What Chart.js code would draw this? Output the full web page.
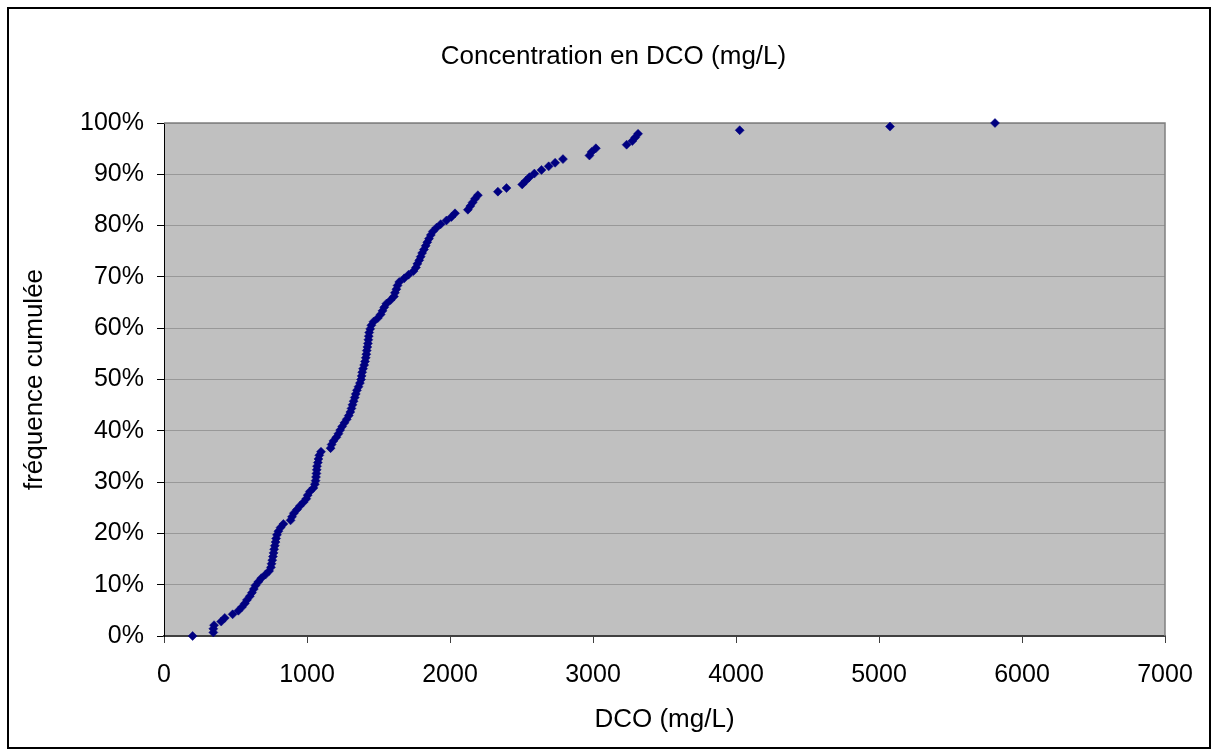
<!DOCTYPE html>
<html>
<head>
<meta charset="utf-8">
<script src="https://cdn.jsdelivr.net/npm/chart.js@4"></script>
<style>
  html, body { margin: 0; background: #fff; }
  #wrap { width: 1217px; height: 756px; }
</style>
</head>
<body>
<div id="wrap"><canvas id="chart" width="1217" height="756"></canvas></div>
<script>
// ========= données =========
// DCO (mg/L), triées
const dco = [
  200, 345, 345, 350, 400, 425, 480, 520, 545, 565,
  580, 600, 615, 628, 640, 660, 680, 710, 735, 748,
  752, 757, 762, 766, 770, 775, 780, 784, 790, 800,
  815, 835, 885, 895, 908, 930, 950, 975, 995, 1005,
  1020, 1045, 1055, 1060, 1063, 1066, 1068, 1070, 1076, 1080,
  1086, 1098, 1165, 1172, 1185, 1205, 1220, 1232, 1246, 1262,
  1278, 1292, 1303, 1311, 1318, 1326, 1334, 1341, 1349, 1360,
  1370, 1378, 1382, 1386, 1392, 1400, 1406, 1411, 1415, 1418,
  1422, 1426, 1429, 1432, 1435, 1442, 1450, 1465, 1495, 1515,
  1528, 1540, 1555, 1585, 1608, 1615, 1625, 1633, 1645, 1680,
  1710, 1745, 1762, 1772, 1785, 1795, 1805, 1818, 1830, 1841,
  1853, 1866, 1880, 1905, 1935, 1975, 2010, 2035, 2125, 2142,
  2158, 2175, 2195, 2335, 2395, 2505, 2530, 2555, 2590, 2640,
  2690, 2735, 2790, 2975, 2990, 3020, 3235, 3275, 3295, 3315,
  4026, 5077, 5811
];
// fréquence cumulée (%)
const freq = [
  0, 0.70, 1.41, 2.11, 2.82, 3.52, 4.23, 4.93, 5.63, 6.34,
  7.04, 7.75, 8.45, 9.15, 9.86, 10.56, 11.27, 11.97, 12.68, 13.38,
  14.08, 14.79, 15.49, 16.20, 16.90, 17.61, 18.31, 19.01, 19.72, 20.42,
  21.13, 21.83, 22.54, 23.24, 23.94, 24.65, 25.35, 26.06, 26.76, 27.46,
  28.17, 28.87, 29.58, 30.28, 30.99, 31.69, 32.39, 33.10, 33.80, 34.51,
  35.21, 35.92, 36.62, 37.32, 38.03, 38.73, 39.44, 40.14, 40.85, 41.55,
  42.25, 42.96, 43.66, 44.37, 45.07, 45.77, 46.48, 47.18, 47.89, 48.59,
  49.30, 50.00, 50.70, 51.41, 52.11, 52.82, 53.52, 54.23, 54.93, 55.63,
  56.34, 57.04, 57.75, 58.45, 59.15, 59.86, 60.56, 61.27, 61.97, 62.68,
  63.38, 64.08, 64.79, 65.49, 66.20, 66.90, 67.61, 68.31, 69.01, 69.72,
  70.42, 71.13, 71.83, 72.54, 73.24, 73.94, 74.65, 75.35, 76.06, 76.76,
  77.46, 78.17, 78.87, 79.58, 80.28, 80.99, 81.69, 82.39, 83.10, 83.80,
  84.51, 85.21, 85.92, 86.62, 87.32, 88.03, 88.73, 89.44, 90.14, 90.85,
  91.55, 92.25, 92.96, 93.66, 94.37, 95.07, 95.77, 96.48, 97.18, 97.89,
  98.59, 99.30, 100
];
const xTicks = [0, 1000, 2000, 3000, 4000, 5000, 6000, 7000];
const yTicks = [0, 10, 20, 30, 40, 50, 60, 70, 80, 90, 100];

const FONT = 'Liberation Sans, Arial, sans-serif';

// fond gris de la zone de tracé + cadres
const frame = {
  id: 'frame',
  beforeDraw(chart) {
    const { ctx, chartArea: a } = chart;
    ctx.save();
    ctx.fillStyle = '#fff';
    ctx.fillRect(0, 0, chart.width, chart.height);
    ctx.fillStyle = '#c0c0c0';
    ctx.fillRect(a.left, a.top, a.right - a.left, a.bottom - a.top);
    ctx.restore();
  },
  beforeDatasetsDraw(chart) {
    const { ctx, chartArea: a } = chart;
    ctx.save();
    ctx.strokeStyle = '#808080';
    ctx.lineWidth = 1.5;
    ctx.beginPath();
    ctx.moveTo(a.left, a.top);
    ctx.lineTo(a.right, a.top);
    ctx.lineTo(a.right, a.bottom);
    ctx.stroke();
    ctx.restore();
  },
  afterDraw(chart) {
    const { ctx } = chart;
    ctx.save();
    ctx.strokeStyle = '#000';
    ctx.lineWidth = 2;
    ctx.strokeRect(8, 8, 1202, 740);
    ctx.restore();
  }
};

new Chart(document.getElementById('chart'), {
  type: 'scatter',
  data: {
    datasets: [{
      label: 'DCO',
      data: dco.map((v, i) => ({ x: v, y: freq[i] })),
      pointStyle: 'rectRot',
      pointRadius: 4.5,
      pointBorderWidth: 0.5,
      backgroundColor: '#000080',
      borderColor: '#000080',
      clip: false
    }]
  },
  options: {
    responsive: false,
    animation: false,
    devicePixelRatio: 1,
    layout: { padding: { left: 10, right: 0, top: 0, bottom: 0 } },
    plugins: {
      legend: { display: false },
      tooltip: { enabled: false },
      title: {
        display: true,
        text: 'Concentration en DCO (mg/L)',
        color: '#000',
        font: { family: FONT, size: 26, weight: 'normal' },
        padding: { top: 41, bottom: 50.8 }
      }
    },
    scales: {
      x: {
        type: 'linear',
        min: 0, max: 7000,
        afterBuildTicks: s => { s.ticks = xTicks.map(v => ({ value: v })); },
        afterFit: s => { s.height = 120; },
        ticks: { color: '#000', padding: 17, font: { family: FONT, size: 25 }, callback: v => String(v) },
        grid: { drawOnChartArea: false, tickLength: 7, tickColor: '#404040', lineWidth: 1 },
        border: { color: '#404040', width: 2 },
        title: {
          display: true, text: 'DCO (mg/L)', color: '#000',
          font: { family: FONT, size: 26 }, padding: { top: 0, bottom: 20.4 }
        }
      },
      y: {
        type: 'linear',
        min: 0, max: 100,
        afterBuildTicks: s => { s.ticks = yTicks.map(v => ({ value: v })); },
        afterFit: s => { s.width = 154; },
        ticks: { color: '#000', padding: 13, font: { family: FONT, size: 25 }, callback: v => v + '%' },
        grid: { color: '#989898', lineWidth: 1, tickLength: 7, tickColor: '#000' },
        border: { color: '#000', width: 1 },
        title: {
          display: true, text: 'fréquence cumulée', color: '#000',
          font: { family: FONT, size: 26 }, padding: { top: 9.4, bottom: 0 }
        }
      },
      // marge droite vide (axe invisible) pour fixer le bord de la zone de tracé
      yRight: {
        position: 'right',
        display: true,
        ticks: { display: false },
        grid: { display: false },
        border: { display: false },
        afterFit: s => { s.width = 52; }
      }
    }
  },
  plugins: [frame]
});
</script>
</body>
</html>
